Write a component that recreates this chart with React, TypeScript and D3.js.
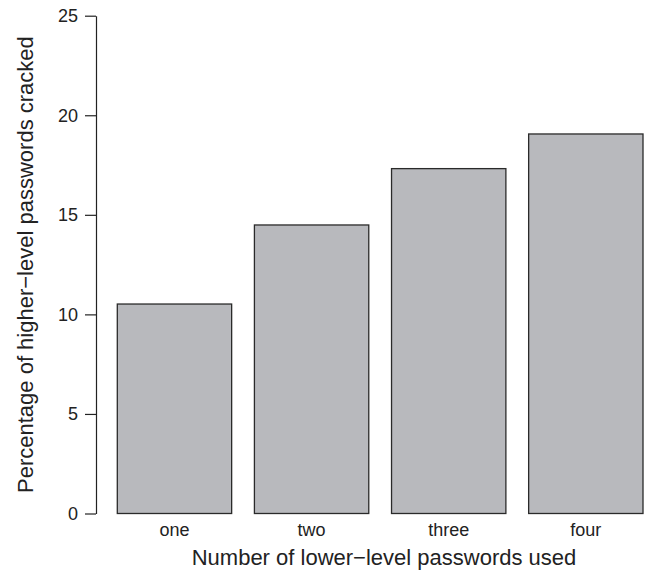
import React, { useEffect, useRef } from 'react';
import * as d3 from 'd3';

const categories = ['one', 'two', 'three', 'four'];
const values = [10.52, 14.49, 17.32, 19.06];
const yTicks = [0, 5, 10, 15, 20, 25];

const WIDTH = 651;
const HEIGHT = 572;
const FONT = '"Liberation Sans", Arial, Helvetica, sans-serif';

const App = () => {
  const svgRef = useRef<SVGSVGElement | null>(null);

  useEffect(() => {
    const svg = d3.select(svgRef.current);
    svg.selectAll('*').remove();

    const y = d3.scaleLinear().domain([0, 25]).range([513.5, 15.7]);
    const x = d3
      .scaleBand<string>()
      .domain(categories)
      .range([117.3, 643])
      .paddingInner(0.166)
      .paddingOuter(0);

    // bars
    svg
      .append('g')
      .selectAll('rect')
      .data(values)
      .enter()
      .append('rect')
      .attr('x', (_, i) => x(categories[i]) as number)
      .attr('y', (d) => y(d))
      .attr('width', x.bandwidth())
      .attr('height', (d) => y(0) - y(d))
      .attr('fill', '#b8b9bd')
      .attr('stroke', '#2a2a2a')
      .attr('stroke-width', 1.3);

    // y axis
    const yAxis = d3
      .axisLeft(y)
      .tickValues(yTicks)
      .tickSize(11)
      .tickPadding(7)
      .tickSizeOuter(0);
    const yg = svg.append('g').attr('transform', 'translate(96,0)').call(yAxis);
    yg.select('.domain').attr('stroke', '#222').attr('stroke-width', 1.2);
    yg.selectAll('.tick line').attr('stroke', '#222').attr('stroke-width', 1.2);
    yg.selectAll('.tick text')
      .attr('font-family', FONT)
      .attr('font-size', 18)
      .attr('fill', '#222');

    // x category labels
    svg
      .append('g')
      .selectAll('text')
      .data(categories)
      .enter()
      .append('text')
      .attr('x', (d) => (x(d) as number) + x.bandwidth() / 2)
      .attr('y', 536)
      .attr('text-anchor', 'middle')
      .attr('font-family', FONT)
      .attr('font-size', 18)
      .attr('fill', '#222')
      .text((d) => d);

    // axis titles
    svg
      .append('text')
      .attr('x', 384)
      .attr('y', 565)
      .attr('text-anchor', 'middle')
      .attr('font-family', FONT)
      .attr('font-size', 22)
      .attr('fill', '#222')
      .text('Number of lower\u2212level passwords used');

    svg
      .append('text')
      .attr('transform', `translate(33,${(y(0) + y(25)) / 2}) rotate(-90)`)
      .attr('text-anchor', 'middle')
      .attr('font-family', FONT)
      .attr('font-size', 22)
      .attr('fill', '#222')
      .text('Percentage of higher\u2212level passwords cracked');
  }, []);

  return (
    <svg
      ref={svgRef}
      width={WIDTH}
      height={HEIGHT}
      style={{ position: 'absolute', left: 0, top: 0, background: '#fff' }}
    />
  );
};

export default App;
